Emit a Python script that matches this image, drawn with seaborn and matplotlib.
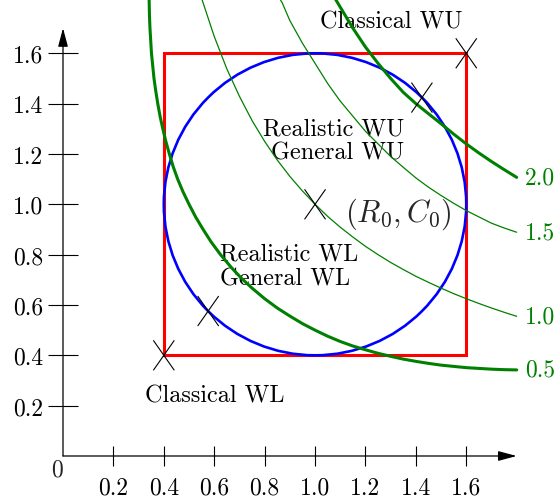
import matplotlib
matplotlib.use("Agg")
import matplotlib.pyplot as plt
from matplotlib.path import Path
from matplotlib.patches import Rectangle, Circle
import pandas as pd
import seaborn as sns

# nominal design point and tolerance regions
R0, C0 = 1.0, 1.0
box_lo, box_hi = 0.4, 1.6
radius = 0.6

# crosses: corners of the box and the circle points on the diagonal
cross_r = [0.4, 0.576, 1.0, 1.424, 1.6]
cross_c = [0.4, 0.576, 1.0, 1.424, 1.6]

# level curves
lvl05_r = [0.341, 0.342, 0.343, 0.345, 0.348, 0.351, 0.356, 0.361, 0.368,
           0.376, 0.385, 0.396, 0.408, 0.422, 0.437, 0.455, 0.476, 0.500,
           0.526, 0.556, 0.588, 0.625, 0.667, 0.707, 0.75, 0.80, 0.85, 0.90,
           0.95, 1.00, 1.05, 1.10, 1.15, 1.20, 1.25, 1.30, 1.35, 1.40, 1.45,
           1.50, 1.55, 1.60, 1.65, 1.70, 1.75, 1.80]
lvl05_c = [1.85, 1.80, 1.75, 1.70, 1.65, 1.60, 1.55, 1.50, 1.45,
           1.40, 1.35, 1.30, 1.25, 1.20, 1.15, 1.10, 1.05, 1.00,
           0.95, 0.90, 0.85, 0.80, 0.75, 0.707, 0.667, 0.625, 0.588, 0.556,
           0.526, 0.500, 0.476, 0.455, 0.437, 0.422, 0.408, 0.396, 0.385, 0.376, 0.368,
           0.361, 0.356, 0.351, 0.348, 0.345, 0.343, 0.342]

lvl10_r = [0.54, 0.55, 0.60, 0.65, 0.70, 0.75, 0.80, 0.85, 0.90, 0.95, 1.00,
           1.05, 1.10, 1.15, 1.20, 1.25, 1.30, 1.35, 1.40, 1.45, 1.50, 1.55,
           1.60, 1.65, 1.70, 1.75, 1.80]
lvl10_c = [1.850, 1.818, 1.667, 1.538, 1.429, 1.333, 1.250, 1.176, 1.111, 1.053, 1.000,
           0.952, 0.909, 0.870, 0.833, 0.800, 0.769, 0.741, 0.714, 0.690, 0.667, 0.645,
           0.625, 0.606, 0.588, 0.571, 0.555]

lvl15_r = [0.84, 0.87, 0.90, 0.95, 1.00, 1.05, 1.10, 1.15, 1.20, 1.25, 1.30,
           1.35, 1.40, 1.45, 1.50, 1.55, 1.60, 1.65, 1.70, 1.75, 1.80]
lvl15_c = [1.85, 1.80, 1.73, 1.64, 1.56, 1.48, 1.41, 1.35, 1.29, 1.24, 1.19,
           1.147, 1.105, 1.068, 1.035, 1.004, 0.975, 0.950, 0.925, 0.906, 0.889]

lvl20_r = [1.06, 1.09, 1.15, 1.20, 1.25, 1.30, 1.35, 1.40, 1.45, 1.50, 1.55,
           1.60, 1.65, 1.70, 1.75, 1.80]
lvl20_c = [1.85, 1.80, 1.70, 1.625, 1.56, 1.50, 1.445, 1.40, 1.36, 1.32, 1.279,
           1.24, 1.204, 1.17, 1.138, 1.107]

level_names = ["0.5", "1.0", "1.5", "2.0"]
level_widths = [2.2, 0.9, 0.9, 2.2]

tick_vals = [0.2, 0.4, 0.6, 0.8, 1.0, 1.2, 1.4, 1.6]
tick_labels = ["0.2", "0.4", "0.6", "0.8", "1.0", "1.2", "1.4", "1.6"]

GREEN = "#008000"

sns.set_theme(style="white")
plt.rcParams["font.family"] = ["cmr10", "DejaVu Serif"]
plt.rcParams["mathtext.fontset"] = "cm"
plt.rcParams["axes.formatter.use_mathtext"] = True
plt.rcParams["axes.unicode_minus"] = False

fig = plt.figure(figsize=(5.57, 5.02), dpi=100)
ax = fig.add_axes([0, 0, 1, 1])
ax.set_xlim(-0.25, 1.960)
ax.set_ylim(-0.1788, 1.8157)
ax.set_facecolor("white")

# tolerance box and circle
ax.add_patch(Rectangle((box_lo, box_lo), box_hi - box_lo, box_hi - box_lo,
                       fill=False, edgecolor="#ff0000", linewidth=2.2, zorder=2))
ax.add_patch(Circle((R0, C0), radius, fill=False, edgecolor="#0000ff",
                    linewidth=1.9, zorder=3))

# level curves
curves = [(lvl05_r, lvl05_c), (lvl10_r, lvl10_c), (lvl15_r, lvl15_c), (lvl20_r, lvl20_c)]
for (rs, cs), name, lw in zip(curves, level_names, level_widths):
    df = pd.DataFrame({"R": rs, "C": cs})
    sns.lineplot(data=df, x="R", y="C", sort=False, estimator=None,
                 color=GREEN, linewidth=lw, ax=ax, zorder=4)
    ax.annotate(name, xy=(rs[-1], cs[-1]), xytext=(6, 0), textcoords="offset points",
                color=GREEN, fontsize=17, ha="left", va="center")

# crosses
cross_path = Path([(-0.7, -1.0), (0.7, 1.0), (-0.7, 1.0), (0.7, -1.0)],
                  [Path.MOVETO, Path.LINETO, Path.MOVETO, Path.LINETO])
ax.scatter(cross_r, cross_c, marker=cross_path, s=21.6 ** 2, facecolors="none",
           edgecolors="black", linewidths=0.8, zorder=5)

# axes through the origin
for side in ["top", "right", "left", "bottom"]:
    ax.spines[side].set_visible(False)
ax.spines["left"].set_position(("data", 0))
ax.spines["bottom"].set_position(("data", 0))
arrow = dict(arrowstyle="-|>,head_length=0.75,head_width=0.2", color="black",
             lw=0.9, shrinkA=0, shrinkB=0, mutation_scale=15)
ax.annotate("", xy=(1.80, 0), xytext=(0, 0), arrowprops=arrow, zorder=6)
ax.annotate("", xy=(0, 1.70), xytext=(0, 0), arrowprops=arrow, zorder=6)

ax.set_xticks(tick_vals, tick_labels)
ax.set_yticks(tick_vals, tick_labels)
ax.tick_params(axis="x", direction="inout", length=13.7, width=0.8, pad=8,
               labelsize=17, colors="black", bottom=True, top=False)
ax.tick_params(axis="y", direction="inout", length=21.6, width=0.8, pad=3.6,
               labelsize=17, colors="black", left=True, right=False)
ax.set_xlabel("")
ax.set_ylabel("")
ax.grid(False)
ax.text(-0.024, -0.052, "0", fontsize=17, ha="center", va="center")

# region annotations
txt = dict(fontsize=17.4, color="black")
ax.text(1.587, 1.703, "Classical WU", ha="right", va="baseline", **txt)
ax.text(1.353, 1.279, "Realistic WU", ha="right", va="baseline", **txt)
ax.text(1.353, 1.183, "General WU", ha="right", va="baseline", **txt)
ax.text(0.623, 0.780, "Realistic WL", ha="left", va="baseline", **txt)
ax.text(0.623, 0.683, "General WL", ha="left", va="baseline", **txt)
ax.text(0.325, 0.216, "Classical WL", ha="left", va="baseline", **txt)
ax.text(1.119, 0.935, r"$(R_0, C_0)$", ha="left", va="baseline", fontsize=22)

fig.savefig("out.png", dpi=100)
